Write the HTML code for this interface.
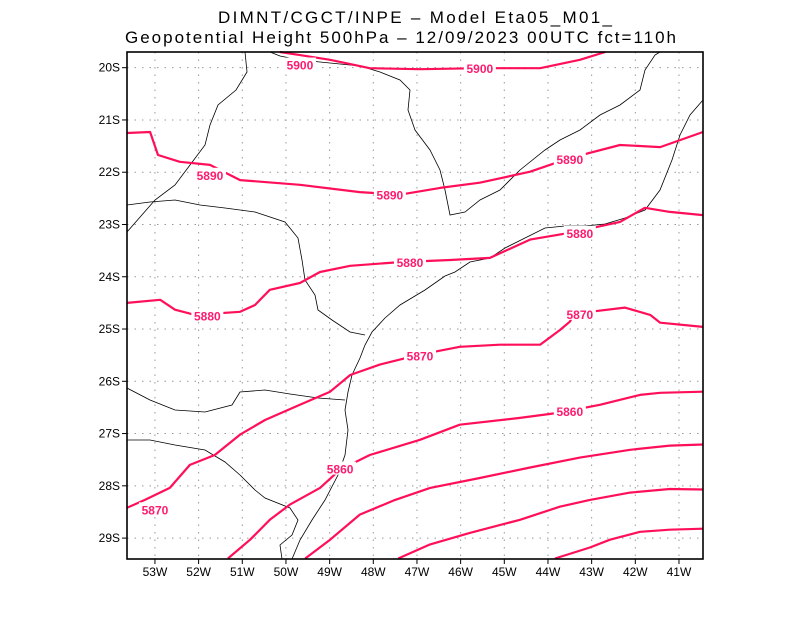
<!DOCTYPE html>
<html><head><meta charset="utf-8"><style>
body{margin:0;background:#fff;}
svg{display:block;font-family:"Liberation Sans",sans-serif;}
</style></head><body>
<svg id="chart" width="800" height="618" viewBox="0 0 800 618">
<rect width="800" height="618" fill="#fff"/>
<text x="218" y="23" font-size="17" textLength="394" lengthAdjust="spacing">DIMNT/CGCT/INPE –  Model Eta05_M01_</text>
<text x="125" y="43" font-size="17" textLength="551" lengthAdjust="spacing">Geopotential Height 500hPa –  12/09/2023 00UTC fct=110h</text>
<g id="grid"></g>
<g id="map" fill="none" stroke="#000" stroke-width="0.8">
<path d="M703,100 L690,115 L680,135 L672,160 L660,190 L645,210 L625,218 L605,224 L585,226 L565,226 L545,228 L525,238 L505,248 L490,258 L470,262 L455,272 L445,276 L425,290 L400,305 L385,318 L372,332 L365,345 L360,358 L352,375 L348,392 L345,410 L348,430 L345,455 L338,475 L325,500 L312,520 L300,540 L292,559"/>
<path d="M270,52 L280,56 L300,60 L320,62 L340,64 L360,66 L380,72 L400,80 L410,90 L408,110 L415,130 L430,150 L440,170 L445,190 L450,215 L465,212 L480,200 L500,190 L520,170 L545,150 L560,140 L580,130 L600,115 L620,105 L640,90 L645,70 L655,55 L660,52"/>
<path d="M245,52 L247,72 L236,90 L218,105 L210,125 L205,145 L190,165 L175,185 L155,200 L127,232"/>
<path d="M127,205 L150,202 L175,200 L200,205 L225,208 L255,212 L285,222 L298,238 L302,260 L305,280 L315,295 L318,310 L332,320 L350,332 L365,335"/>
<path d="M127,388 L150,400 L175,410 L205,412 L232,405 L240,392 L265,390 L290,394 L318,398 L345,400"/>
<path d="M127,440 L150,440 L175,445 L205,450 L225,462 L240,475 L255,490 L265,498 L290,508 L298,520 L292,535 L280,545 L282,559"/>
</g>
<g id="contours"></g>
<g id="frame"></g>
<g id="axes"></g>
</svg>
<script>
const lonTicks=[-53,-52,-51,-50,-49,-48,-47,-46,-45,-44,-43,-42,-41];
const latTicks=[-20,-21,-22,-23,-24,-25,-26,-27,-28,-29];
const c5900lon=[-50.14,-49.68,-48.99,-48.08,-46.93,-45.56,-44.18,-43.27,-42.69];
const c5900lat=[-19.70,-19.76,-19.85,-20.01,-20.03,-20.01,-20.01,-19.85,-19.70];
const c5890lon=[-53.64,-53.11,-52.93,-52.43,-51.74,-51.05,-49.68,-48.31,-47.39,-46.47,-45.56,-44.41,-43.50,-42.35,-41.43,-40.45];
const c5890lat=[-21.25,-21.23,-21.67,-21.80,-21.86,-22.15,-22.24,-22.38,-22.43,-22.30,-22.20,-21.99,-21.73,-21.48,-21.52,-21.23];
const c5880lon=[-53.64,-52.88,-52.54,-52.08,-51.05,-50.71,-50.37,-49.68,-49.22,-48.53,-47.39,-46.24,-45.33,-44.41,-43.50,-42.35,-41.78,-41.21,-40.45];
const c5880lat=[-24.50,-24.44,-24.63,-24.73,-24.67,-24.54,-24.25,-24.12,-23.91,-23.79,-23.72,-23.68,-23.64,-23.29,-23.16,-22.95,-22.68,-22.76,-22.82];
const c5870lon=[-53.64,-53.23,-52.66,-52.20,-51.63,-51.05,-50.48,-49.68,-48.99,-48.53,-47.85,-46.93,-46.02,-45.10,-44.18,-43.73,-43.50,-43.38,-43.04,-42.24,-41.66,-41.43,-40.45];
const c5870lat=[-28.42,-28.27,-28.04,-27.60,-27.41,-27.02,-26.74,-26.45,-26.20,-25.88,-25.68,-25.49,-25.34,-25.30,-25.30,-25.02,-24.86,-24.69,-24.67,-24.59,-24.73,-24.88,-24.96];
const c5860lon=[-51.33,-50.82,-50.37,-49.91,-49.22,-48.76,-48.08,-46.93,-46.02,-44.64,-43.73,-42.81,-41.89,-41.43,-40.45];
const c5860lat=[-29.39,-29.03,-28.65,-28.36,-28.04,-27.69,-27.41,-27.12,-26.83,-26.70,-26.60,-26.45,-26.26,-26.22,-26.20];
const c5850lon=[-49.56,-48.99,-48.31,-47.50,-46.70,-45.56,-44.41,-43.27,-42.12,-41.21,-40.45];
const c5850lat=[-29.39,-29.03,-28.55,-28.27,-28.04,-27.85,-27.65,-27.46,-27.31,-27.23,-27.21];
const c5840lon=[-47.43,-46.70,-45.79,-44.64,-43.73,-43.04,-42.12,-41.21,-40.45];
const c5840lat=[-29.39,-29.12,-28.90,-28.65,-28.40,-28.27,-28.13,-28.06,-28.07];
const c5830lon=[-43.84,-43.04,-42.58,-41.89,-41.21,-40.45];
const c5830lat=[-29.39,-29.18,-29.03,-28.88,-28.84,-28.82];
const labelText=["5900","5900","5890","5890","5890","5880","5880","5880","5870","5870","5870","5860","5860"];
const labelLon=[-49.68,-45.56,-51.74,-47.62,-43.50,-47.16,-43.27,-51.80,-53.00,-46.93,-43.27,-48.76,-43.50];
const labelLat=[-19.94,-20.01,-22.05,-22.43,-21.75,-23.72,-23.16,-24.74,-28.45,-25.51,-24.71,-27.67,-26.57];

const X0=127,X1=703,Y0=52,Y1=559;
const lonMin=-53.64,lonMax=-40.45,latMax=-19.70,latMin=-29.40;
const sx=l=>X0+(l-lonMin)/(lonMax-lonMin)*(X1-X0);
const sy=l=>Y0+(latMax-l)/(latMax-latMin)*(Y1-Y0);
const NS='http://www.w3.org/2000/svg';
function mk(t,p,parent){const e=document.createElementNS(NS,t);for(const k in p)e.setAttribute(k,p[k]);parent.appendChild(e);return e;}
const grid=document.getElementById('grid'),axes=document.getElementById('axes'),cont=document.getElementById('contours'),frame=document.getElementById('frame');
lonTicks.forEach(l=>{
  const x=sx(l);
  const g=mk('line',{x1:x,y1:Y0,x2:x,y2:Y1,stroke:'#999','stroke-width':1,'stroke-dasharray':'1.5,6'},grid);
  
  
  const t=mk('line',{x1:x,y1:Y1,x2:x,y2:Y1+5,stroke:'#000','stroke-width':1},axes);
  
  
  const tx=mk('text',{x:x,y:Y1+17,'font-size':12,'text-anchor':'middle'},axes);
  tx.textContent=Math.abs(l)+'W';
  
  
});
latTicks.forEach(l=>{
  const y=sy(l);
  const g=mk('line',{x1:X0,y1:y,x2:X1,y2:y,stroke:'#999','stroke-width':1,'stroke-dasharray':'1.5,6'},grid);
  
  
  const t=mk('line',{x1:X0-5,y1:y,x2:X0,y2:y,stroke:'#000','stroke-width':1},axes);
  
  
  const tx=mk('text',{x:X0-7,y:y+4,'font-size':12,'text-anchor':'end'},axes);
  tx.textContent=Math.abs(l)+'S';
  
  
});
const series=[[c5900lon,c5900lat,'5900'],[c5890lon,c5890lat,'5890'],[c5880lon,c5880lat,'5880'],[c5870lon,c5870lat,'5870'],[c5860lon,c5860lat,'5860'],[c5850lon,c5850lat,'5850'],[c5840lon,c5840lat,'5840'],[c5830lon,c5830lat,'5830']];
series.forEach(s=>{
  const d=s[0].map((v,i)=>(i?'L':'M')+sx(v).toFixed(1)+','+sy(s[1][i]).toFixed(1)).join(' ');
  const p=mk('path',{d:d,fill:'none',stroke:'#ff0f5a','stroke-width':2.2,'stroke-linejoin':'round'},cont);
  
  
});
labelText.forEach((t,i)=>{
  const x=sx(labelLon[i]),y=sy(labelLat[i]);
  const r=mk('rect',{x:x-16,y:y-7,width:32,height:13,fill:'#fff'},cont);
  
  
  const tx=mk('text',{x:x,y:y+5,'font-size':12,'font-weight':'bold','text-anchor':'middle',fill:'#ff1a6e'},cont);
  tx.textContent=t;
  
  
});
const f=mk('rect',{x:X0,y:Y0,width:X1-X0,height:Y1-Y0,fill:'none',stroke:'#000','stroke-width':1.6},frame);


</script>
</body></html>
